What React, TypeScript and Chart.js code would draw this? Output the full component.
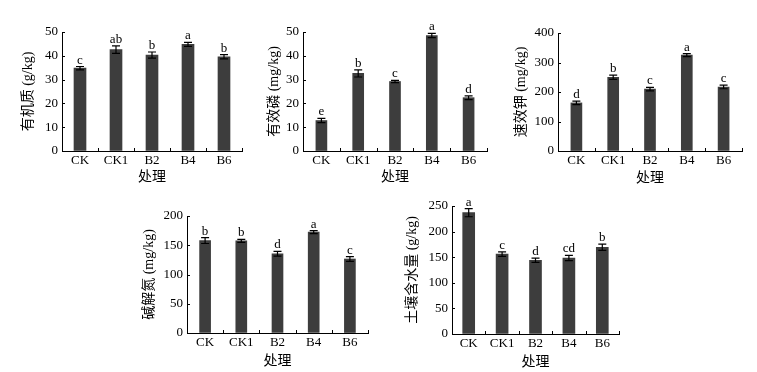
import React, { useEffect, useRef } from 'react';
import { Chart, registerables } from 'chart.js';

Chart.register(...registerables);

// ---------- data ----------
const categories = ['CK', 'CK1', 'B2', 'B4', 'B6'];
const xAxisTitle = '处理';

const organicMatter = [34.8, 42.6, 40.3, 44.8, 39.6];
const organicMatterErr = [0.7, 1.6, 1.3, 0.8, 0.9];
const organicMatterLetters = ['c', 'ab', 'b', 'a', 'b'];

const availableP = [12.8, 32.6, 29.2, 48.5, 22.4];
const availablePErr = [0.9, 1.5, 0.5, 0.9, 0.8];
const availablePLetters = ['e', 'b', 'c', 'a', 'd'];

const availableK = [163, 250, 210, 325, 217];
const availableKErr = [6, 7, 6, 5, 6];
const availableKLetters = ['d', 'b', 'c', 'a', 'c'];

const alkaliN = [158, 157.5, 135.5, 172.5, 126.5];
const alkaliNErr = [5, 2.5, 4, 2.5, 4];
const alkaliNLetters = ['b', 'b', 'd', 'a', 'c'];

const soilWater = [237, 156, 144, 148.5, 169.5];
const soilWaterErr = [8, 4.5, 4, 5, 6];
const soilWaterLetters = ['a', 'c', 'd', 'cd', 'b'];

// ---------- layout / style ----------
const FONT = '"Liberation Serif", "Times New Roman", "Noto Sans CJK SC", serif';
const BAR_COLOR = '#3d3d3d';
const TITLE_SIZE = 14;
const TITLE_HALF = (TITLE_SIZE * 1.2) / 2;

type PanelCfg = {
  yLabel: string;
  values: number[];
  errs: number[];
  letters: string[];
  max: number;
  step: number;
  L: number; R: number; T: number; B: number;
  titleDist: number;
  xTitleOff: number;
  barW: number;
};

const panels: PanelCfg[] = [
  { yLabel: '有机质 (g/kg)', values: organicMatter, errs: organicMatterErr, letters: organicMatterLetters, max: 50, step: 10, L: 62, R: 242, T: 32, B: 151, titleDist: 34, xTitleOff: 26, barW: 12 },
  { yLabel: '有效磷 (mg/kg)', values: availableP, errs: availablePErr, letters: availablePLetters, max: 50, step: 10, L: 303, R: 487, T: 32, B: 151, titleDist: 29, xTitleOff: 26, barW: 11 },
  { yLabel: '速效钾 (mg/kg)', values: availableK, errs: availableKErr, letters: availableKLetters, max: 400, step: 100, L: 558, R: 742, T: 33, B: 151, titleDist: 37, xTitleOff: 27, barW: 11 },
  { yLabel: '碱解氮 (mg/kg)', values: alkaliN, errs: alkaliNErr, letters: alkaliNLetters, max: 200, step: 50, L: 187, R: 368, T: 216, B: 333, titleDist: 38, xTitleOff: 28, barW: 11 },
  { yLabel: '土壤含水量 (g/kg)', values: soilWater, errs: soilWaterErr, letters: soilWaterLetters, max: 250, step: 50, L: 452, R: 619, T: 206, B: 334, titleDist: 40, xTitleOff: 28, barW: 12 },
];

const YW = 55;
const PT = 12;
const PR = 10;
const XH = 40;

function Panel({ cfg }: { cfg: PanelCfg }) {
  const ref = useRef<HTMLCanvasElement | null>(null);
  const width = YW + (cfg.R - cfg.L) + PR;
  const height = PT + (cfg.B - cfg.T) + XH;

  useEffect(() => {
    const canvas = ref.current;
    if (!canvas) return;
    const { values, errs, letters } = cfg;
    const annot = {
      id: 'annot',
      afterDatasetsDraw(chart: any) {
        const ctx = chart.ctx as CanvasRenderingContext2D;
        const meta = chart.getDatasetMeta(0);
        const ys = chart.scales.y;
        const xs = chart.scales.x;
        const area = chart.chartArea;
        ctx.save();
        ctx.strokeStyle = '#000';
        ctx.fillStyle = '#000';
        meta.data.forEach((bar: any, i: number) => {
          const v = values[i];
          const e = errs[i];
          const top = ys.getPixelForValue(v + e);
          const bot = ys.getPixelForValue(v - e);
          ctx.lineWidth = 1.2;
          ctx.beginPath();
          ctx.moveTo(bar.x, top);
          ctx.lineTo(bar.x, bot);
          ctx.moveTo(bar.x - 4, top);
          ctx.lineTo(bar.x + 4, top);
          ctx.moveTo(bar.x - 4, bot);
          ctx.lineTo(bar.x + 4, bot);
          ctx.stroke();
          ctx.font = '13px ' + FONT;
          ctx.textAlign = 'center';
          ctx.textBaseline = 'alphabetic';
          ctx.fillText(letters[i], bar.x, top - 3);
        });
        // inward tick marks
        ctx.lineWidth = 1;
        ctx.beginPath();
        ys.ticks.forEach((t: any) => {
          const py = Math.round(ys.getPixelForValue(t.value)) + 0.5;
          ctx.moveTo(area.left, py);
          ctx.lineTo(area.left + 3, py);
        });
        const half = (xs.getPixelForValue(1) - xs.getPixelForValue(0)) / 2;
        for (let i = 0; i < categories.length; i++) {
          const bx = Math.round(xs.getPixelForValue(i) + half) + 0.5;
          ctx.moveTo(bx, area.bottom);
          ctx.lineTo(bx, area.bottom - 3);
        }
        ctx.stroke();
        ctx.restore();
      },
    };

    const tickFont = { family: FONT, size: 13 };
    const titleFont = { family: FONT, size: TITLE_SIZE };
    const chart = new Chart(canvas, {
      type: 'bar',
      data: {
        labels: categories,
        datasets: [
          {
            data: values,
            backgroundColor: BAR_COLOR,
            borderWidth: 0,
            barThickness: cfg.barW,
          },
        ],
      },
      options: {
        animation: false,
        responsive: false,
        devicePixelRatio: 1,
        layout: { padding: { left: 0, top: PT, right: PR, bottom: 0 } },
        plugins: { legend: { display: false }, tooltip: { enabled: false } },
        scales: {
          x: {
            type: 'category',
            offset: true,
            grid: { display: true, drawOnChartArea: false, drawTicks: false, offset: true },
            border: { display: true, color: '#000', width: 1 },
            ticks: { padding: 2, font: tickFont, color: '#000', maxRotation: 0, autoSkip: false },
            title: {
              display: true,
              text: xAxisTitle,
              font: titleFont,
              color: '#000',
              padding: { top: 0, bottom: XH - cfg.xTitleOff - TITLE_HALF },
            },
            afterFit: (s: any) => {
              s.height = XH;
            },
          },
          y: {
            min: 0,
            max: cfg.max,
            ticks: { stepSize: cfg.step, padding: 4, font: tickFont, color: '#000' },
            grid: { display: true, drawOnChartArea: false, drawTicks: false },
            border: { display: true, color: '#000', width: 1 },
            title: {
              display: true,
              text: cfg.yLabel,
              font: titleFont,
              color: '#000',
              padding: { top: Math.max(0, YW - cfg.titleDist - TITLE_HALF), bottom: 0 },
            },
            afterFit: (s: any) => {
              s.width = YW;
            },
          },
        },
      },
      plugins: [annot],
    } as any);
    return () => chart.destroy();
  }, [cfg]);

  return (
    <canvas
      ref={ref}
      width={width}
      height={height}
      style={{
        position: 'absolute',
        left: cfg.L - YW,
        top: cfg.T - PT,
        width,
        height,
      }}
    />
  );
}

export default function App() {
  return (
    <div
      style={{
        position: 'fixed',
        left: 0,
        top: 0,
        width: 757,
        height: 372,
        background: '#fff',
        overflow: 'hidden',
      }}
    >
      {panels.map((p, i) => (
        <Panel key={i} cfg={p} />
      ))}
    </div>
  );
}
